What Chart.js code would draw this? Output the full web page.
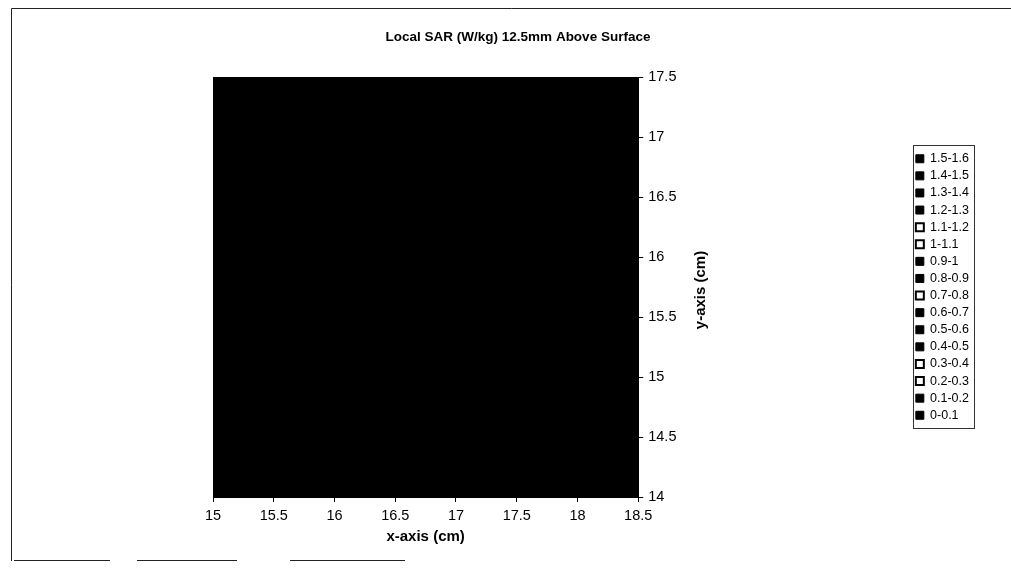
<!DOCTYPE html>
<html>
<head>
<meta charset="utf-8">
<title>Local SAR (W/kg) 12.5mm Above Surface</title>
<script src="https://cdn.jsdelivr.net/npm/chart.js@4.4.1/dist/chart.umd.min.js"></script>
<style>
  html, body { margin: 0; padding: 0; background: #fff; }
  #sar { display: block; }
</style>
</head>
<body>
<canvas id="sar" width="1011" height="569"></canvas>
<script>
// measurement grid (cm)
const xCm = [15, 15.5, 16, 16.5, 17, 17.5, 18, 18.5]
const yCm = [14, 14.5, 15, 15.5, 16, 16.5, 17, 17.5]
// upper edge of the printed surface at each x, the whole grid is covered
const surfaceTop = [17.5, 17.5, 17.5, 17.5, 17.5, 17.5, 17.5, 17.5]

// SAR bands shown in the legend (W/kg)
const bandLabels = ['1.5-1.6', '1.4-1.5', '1.3-1.4', '1.2-1.3', '1.1-1.2', '1-1.1', '0.9-1', '0.8-0.9',
    '0.7-0.8', '0.6-0.7', '0.5-0.6', '0.4-0.5', '0.3-0.4', '0.2-0.3', '0.1-0.2', '0-0.1']

// bands that came out light on the printout
const lightBands = ['1.1-1.2', '1-1.1', '0.7-0.8', '0.3-0.4', '0.2-0.3']

const FONT = '"Liberation Sans", Arial, sans-serif'

Chart.defaults.font.family = FONT
Chart.defaults.color = '#000'

// frame, title, y title and legend box
const decor = {
    id: 'decor',
    afterDraw(chart) {
        let ctx = chart.ctx
        let area = chart.chartArea
        ctx.save()
        ctx.strokeStyle = '#222'
        ctx.lineWidth = 1
        ctx.beginPath()
        ctx.moveTo(11.5, 561)
        ctx.lineTo(11.5, 8.5)
        ctx.lineTo(1011, 8.5)
        ctx.stroke()
        ctx.beginPath()
        ;[[14, 110], [137, 237], [290, 405]].forEach(s => {
            ctx.moveTo(s[0], 560.5)
            ctx.lineTo(s[1], 560.5)
        })
        ctx.stroke()

        ctx.fillStyle = '#000'
        ctx.textAlign = 'center'
        ctx.textBaseline = 'middle'
        ctx.font = 'bold 13.5px ' + FONT
        ctx.fillText('Local SAR (W/kg) 12.5mm Above Surface', 518, 37)

        ctx.save()
        ctx.translate(701, (area.top + area.bottom) / 2 + 3)
        ctx.rotate(-Math.PI / 2)
        ctx.font = 'bold 15px ' + FONT
        ctx.fillText('y-axis (cm)', 0, 0)
        ctx.restore()

        let boxes = chart.legend.legendHitBoxes
        if (boxes && boxes.length) {
            let l = Math.min(...boxes.map(b => b.left)) - 3
            let r = Math.max(...boxes.map(b => b.left + b.width)) + 5
            let t = boxes[0].top - 8
            let b = boxes[boxes.length - 1].top + boxes[boxes.length - 1].height + 6
            ctx.strokeStyle = '#333'
            ctx.strokeRect(Math.round(l) + 0.5, Math.round(t) + 0.5, Math.round(r - l), Math.round(b - t))
        }
        ctx.restore()
    }
}

new Chart('sar', {
    type: 'line',
    data: {
        datasets: [
            {
                label: 'surface',
                data: xCm.map((x, i) => ({ x: x, y: surfaceTop[i] })),
                fill: 'start',
                backgroundColor: '#000',
                borderColor: '#000',
                borderWidth: 1,
                pointRadius: 0
            }
        ]
    },
    options: {
        responsive: false,
        animation: false,
        devicePixelRatio: 1,
        layout: {
            padding: { left: 213, top: 77, right: 32, bottom: 23 }
        },
        scales: {
            x: {
                type: 'linear',
                min: xCm[0],
                max: xCm[xCm.length - 1],
                afterFit: s => { s.height = 49 },
                ticks: {
                    stepSize: 0.5,
                    padding: 5,
                    maxRotation: 0,
                    font: { size: 14.5 },
                    callback: v => String(v)
                },
                grid: {
                    drawOnChartArea: false,
                    tickLength: 5,
                    tickColor: '#000'
                },
                border: { color: '#000' },
                title: {
                    display: true,
                    text: 'x-axis (cm)',
                    font: { size: 15, weight: 'bold' },
                    padding: 0
                }
            },
            y: {
                type: 'linear',
                position: 'right',
                min: yCm[0],
                max: yCm[yCm.length - 1],
                afterFit: s => { s.width = 273 },
                ticks: {
                    stepSize: 0.5,
                    padding: 5,
                    font: { size: 14.5 },
                    callback: v => String(v)
                },
                grid: {
                    drawOnChartArea: false,
                    tickLength: 5,
                    tickColor: '#000'
                },
                border: { color: '#000' }
            }
        },
        plugins: {
            title: { display: false },
            tooltip: { enabled: false },
            legend: {
                position: 'right',
                fullSize: false,
                onClick: null,
                labels: {
                    boxWidth: 8,
                    boxHeight: 8,
                    padding: 4.6,
                    font: { size: 12.5 },
                    generateLabels: () => bandLabels.map((txt, i) => {
                        let light = lightBands.includes(txt)
                        return {
                            text: txt,
                            fillStyle: light ? '#fff' : '#000',
                            strokeStyle: '#000',
                            lineWidth: light ? 2 : 1,
                            hidden: false,
                            index: i
                        }
                    })
                }
            }
        }
    },
    plugins: [decor]
})
</script>
</body>
</html>
